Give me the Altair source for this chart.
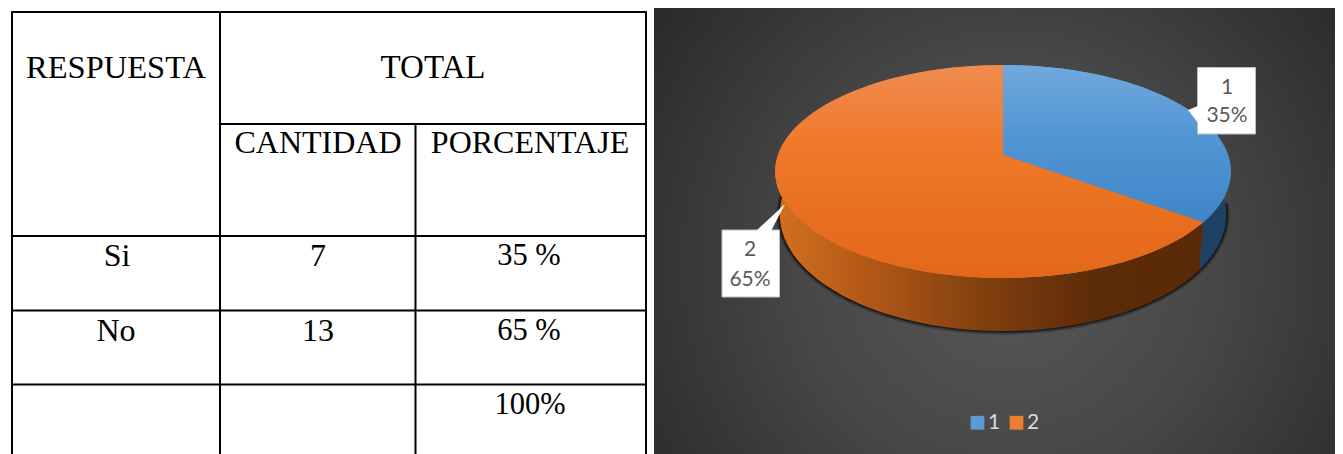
import math
import altair as alt
import pandas as pd

# ---- data ----
slice_names = ["1", "2"]
slice_shares = [35, 65]
table_rows = [
    ("RESPUESTA", "head1"), ("TOTAL", "head2"),
    ("CANTIDAD", "sub1"), ("PORCENTAJE", "sub2"),
    ("Si", "a0"), ("7", "a1"), ("35 %", "a2"),
    ("No", "b0"), ("13", "b1"), ("65 %", "b2"),
    ("100%", "c2"),
]
callouts = [("1", "35%"), ("2", "65%")]

# ---- layout (page pixels; the chart origin sits at 8,8) ----
W, H = 1327, 446
OX, OY = 8, 8
cell_pos = {
    "head1": (116, 68), "head2": (433, 68),
    "sub1": (318, 143), "sub2": (530, 143),
    "a0": (117, 256), "a1": (318, 256), "a2": (529, 256),
    "b0": (116, 331), "b1": (318, 331), "b2": (529, 331),
    "c2": (530, 405),
}
cell_size = {"head1": 32.5, "head2": 33, "a2": 30.5, "b2": 30.5, "c2": 30.5}
h_lines = [(12, 646, 12), (220, 646, 124), (12, 646, 236), (12, 646, 310.5), (12, 646, 384.5)]
v_lines = [(12, 12, 454), (220, 12, 454), (415.5, 124, 454), (646, 12, 454)]

CX, CY, SX, SY = 1003, 155, 225, 103.9
TILT = 0.155


def project(frac):
    a = 2 * math.pi * frac
    X, Y = math.sin(a), math.cos(a)
    d = 1 + TILT * Y
    return X / d, Y / d


def rim(frac):
    return project(frac)


def floor(frac):
    x, y = project(frac)
    return 0.98 * x, -0.398 + 1.095 * y


def arc(start, end, fn, n=80):
    return [fn(start + (end - start) * k / n) for k in range(n + 1)]


def table(points, **extra):
    return pd.DataFrame(
        [dict(i=i, x=p[0], y=p[1], **extra) for i, p in enumerate(points)]
    )


def px(x, y):
    return (x - CX) / SX, (CY - y) / SY


xs = alt.Scale(domain=[-1, 1], range=[CX - SX - OX, CX + SX - OX])
ys = alt.Scale(domain=[-1, 1], range=[CY + SY - OY, CY - SY - OY])
X = alt.X("x:Q", scale=xs, axis=None)
Y = alt.Y("y:Q", scale=ys, axis=None)
ORDER = alt.Order("i:Q")


def grad_v(*stops):
    return alt.Gradient(gradient="linear", x1=0, y1=0, x2=0, y2=1,
                        stops=[alt.GradientStop(color=c, offset=o) for c, o in stops])


def poly(points, fill):
    return alt.Chart(table(points)).mark_line(
        filled=True, fill=fill, stroke=None, strokeWidth=0
    ).encode(x=X, y=Y, order=ORDER)


# fractions of the circle covered by each slice
total = sum(slice_shares)
f1 = slice_shares[0] / total

# panel
panel = alt.Chart(pd.DataFrame({"a": [0]})).mark_rect(
    fill=alt.Gradient(gradient="radial", x1=0.52, y1=0.55, r1=0, x2=0.52, y2=0.55, r2=0.68,
                      stops=[alt.GradientStop(color="#585858", offset=0),
                             alt.GradientStop(color="#474747", offset=0.45),
                             alt.GradientStop(color="#262626", offset=1)])
).encode(x=alt.value(654 - OX), x2=alt.value(W), y=alt.value(0), y2=alt.value(H))

# table rules
rules = []
for x1, x2, y in h_lines:
    rules.append(alt.Chart(pd.DataFrame({"a": [0]})).mark_rule(color="#000000", strokeWidth=2).encode(
        x=alt.value(x1 - OX - 1), x2=alt.value(x2 - OX + 1), y=alt.value(y - OY)))
for x, y1, y2 in v_lines:
    rules.append(alt.Chart(pd.DataFrame({"a": [0]})).mark_rule(color="#000000", strokeWidth=2).encode(
        x=alt.value(x - OX), y=alt.value(y1 - OY), y2=alt.value(y2 - OY)))

# table text
cells = []
for label, key in table_rows:
    tx, ty = cell_pos[key]
    cells.append(alt.Chart(pd.DataFrame({"t": [label]})).mark_text(
        font="Liberation Serif", fontSize=cell_size.get(key, 32), color="#000000",
        align="center", baseline="middle"
    ).encode(x=alt.value(tx - OX), y=alt.value(ty - OY), text="t:N"))

# shadow beneath the pie
shadow_wide = alt.Chart(table(arc(f1 - 0.09, 0.78, floor))).mark_line(
    color="#000000", strokeWidth=7, opacity=0.25
).encode(x=X, y=Y, order=ORDER)
shadow = alt.Chart(table(arc(f1 - 0.09, 0.78, floor))).mark_line(
    color="#000000", strokeWidth=3.5, opacity=0.5
).encode(x=X, y=Y, order=ORDER)

# side walls
side_orange = poly(
    arc(f1, 0.8, rim) + arc(0.8, f1, floor),
    alt.Gradient(gradient="linear", x1=0, y1=0, x2=1, y2=0, stops=[
        alt.GradientStop(color="#d2701f", offset=0),
        alt.GradientStop(color="#b55a17", offset=0.2),
        alt.GradientStop(color="#7f3e0e", offset=0.5),
        alt.GradientStop(color="#5c2b08", offset=0.75),
        alt.GradientStop(color="#5a2a08", offset=1),
    ]),
)
side_blue = poly(arc(f1 - 0.13, f1, rim) + arc(f1, f1 - 0.13, floor), "#1d4264")

# top faces: flat colours that carry the legend, then the shaded faces
base_rows = []
start = 0.0
for name, share in zip(slice_names, slice_shares):
    end = start + share / total
    pts = [(0.0, 0.0)] + arc(start, end, rim) + [(0.0, 0.0)]
    for i, p in enumerate(pts):
        base_rows.append(dict(i=i, x=p[0], y=p[1], name=name))
    start = end

base = alt.Chart(pd.DataFrame(base_rows)).mark_line(filled=True, strokeWidth=0).encode(
    x=X, y=Y, order=ORDER,
    color=alt.Color("name:N", scale=alt.Scale(domain=slice_names, range=["#5B9BD5", "#ED7D31"]),
                    legend=alt.Legend(
                        title=None, orient="none", direction="horizontal",
                        legendX=967 - OX, legendY=412 - OY, symbolType="square", symbolSize=190,
                        labelFont="Lato", labelFontSize=21, labelColor="#D9D9D9",
                        columnPadding=5, labelOffset=0, symbolStrokeWidth=0,
                    )),
)
top_blue = poly([(0.0, 0.0)] + arc(0, f1, rim),
                grad_v(("#72a9dd", 0), ("#5597d6", 0.4), ("#3f86c6", 1)))
top_orange = poly([(0.0, 0.0)] + arc(f1, 1, rim),
                  grad_v(("#ef8c50", 0), ("#ef7a2c", 0.35), ("#e96f20", 0.7), ("#e4681a", 1)))


# data callouts
def box(x1, y1, x2, y2):
    return alt.Chart(pd.DataFrame({"a": [0]})).mark_rect(
        fill="#FFFFFF", stroke="#BFBFBF", strokeWidth=1
    ).encode(x=alt.value(x1 - OX), x2=alt.value(x2 - OX), y=alt.value(y1 - OY), y2=alt.value(y2 - OY))


tail1 = poly([px(1188, 110), px(1198, 106), px(1198, 123)], "#FFFFFF")
tail2 = poly([px(785, 204), px(756, 231), px(771, 231)], "#FFFFFF")
box1 = box(1197.5, 67.5, 1255.5, 134)
box2 = box(722, 230, 779.5, 297)

callout_layers = []
for (a, b), (cx, y1, y2) in zip(callouts, [(1227, 88, 116), (750, 250, 280)]):
    for label, yy in ((a, y1), (b, y2)):
        callout_layers.append(alt.Chart(pd.DataFrame({"t": [label]})).mark_text(
            font="Lato", fontSize=21, color="#595959", align="center", baseline="middle"
        ).encode(x=alt.value(cx - OX), y=alt.value(yy - OY), text="t:N"))

chart = alt.layer(
    panel, *rules, *cells, shadow_wide, shadow, side_blue, side_orange, base, top_blue, top_orange,
    box1, box2, tail1, tail2, *callout_layers,
).properties(
    width=W, height=H, padding=0, autosize=alt.AutoSizeParams(type="none"),
    background="#FFFFFF",
).configure_view(stroke=None)

chart.save("out.html", embed_options={"renderer": "svg", "actions": False})
